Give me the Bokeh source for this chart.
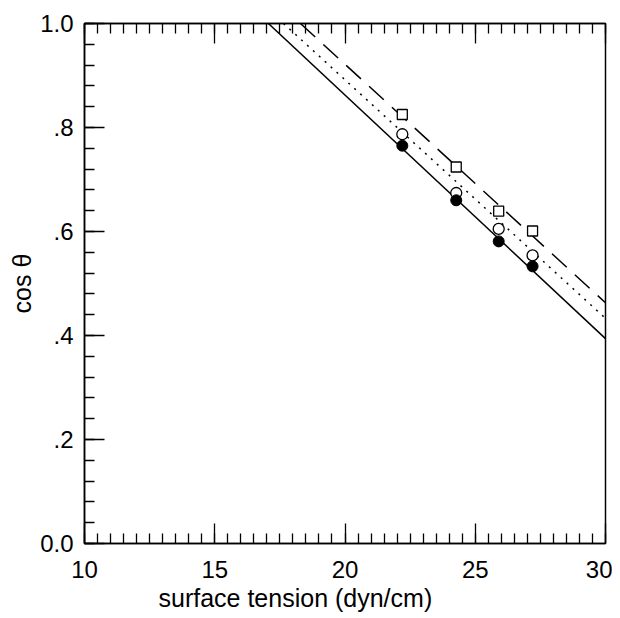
import numpy as np
from bokeh.plotting import figure
from bokeh.models import (LinearAxis, SingleIntervalTicker, FixedTicker, Range1d, Title)
from bokeh.embed import file_html
from bokeh.resources import INLINE

# ---- data ----
x_pts = [22.2, 24.27, 25.9, 27.2]
filled_circle_y = [0.765, 0.660, 0.581, 0.533]
open_circle_y = [0.787, 0.674, 0.605, 0.554]
open_square_y = [0.825, 0.724, 0.639, 0.601]

solid_x = [17.06, 30.0]
solid_y = [1.0, 0.394]
dotted_x = [17.64, 30.0]
dotted_y = [1.0, 0.433]
dashed_x = [18.29, 30.0]
dashed_y = [1.0, 0.463]

y_ticks = [0.0, 0.2, 0.4, 0.6, 0.8, 1.0]
y_tick_labels = ["0.0", ".2", ".4", ".6", ".8", "1.0"]

x_title = "surface tension (dyn/cm)"
y_title = "cos θ"

FONT = "Liberation Sans"

p = figure(width=612, height=618, output_backend="svg", toolbar_location=None,
           x_range=Range1d(10, 30), y_range=Range1d(0, 1.0),
           x_axis_location=None, y_axis_location=None,
           min_border_left=84, min_border_right=7, min_border_top=23, min_border_bottom=75)
p.xgrid.visible = False
p.ygrid.visible = False
p.outline_line_color = "black"
p.outline_line_width = 1.5
p.background_fill_color = "white"
p.border_fill_color = "white"

x_ticker = SingleIntervalTicker(interval=5, num_minor_ticks=10)
y_ticker = FixedTicker(ticks=y_ticks, minor_ticks=list(np.round(np.arange(0, 1.0001, 0.04), 2)))

def style(ax, show_labels=True):
    ax.major_tick_in = 20
    ax.major_tick_out = 0
    ax.minor_tick_in = 10
    ax.minor_tick_out = 0
    ax.axis_line_color = "black"
    ax.axis_line_width = 1.5
    ax.major_tick_line_color = "black"
    ax.major_tick_line_width = 1.3
    ax.minor_tick_line_color = "black"
    ax.minor_tick_line_width = 1.3
    ax.major_label_text_font = FONT
    if show_labels:
        ax.major_label_text_font_size = "24px"
        ax.major_label_text_color = "black"
    else:
        ax.major_label_text_font_size = "1px"
        ax.major_label_text_color = None

xb = LinearAxis(ticker=x_ticker)
style(xb)
xb.major_label_standoff = 17
p.add_layout(xb, "below")

xt = LinearAxis(ticker=x_ticker)
style(xt, show_labels=False)
xt.major_label_standoff = 0
p.add_layout(xt, "above")

yl = LinearAxis(ticker=y_ticker)
style(yl)
yl.major_label_standoff = 11
yl.major_label_overrides = {t: s for t, s in zip(y_ticks, y_tick_labels)}
p.add_layout(yl, "left")

# fitted lines
p.line(solid_x, solid_y, line_color="black", line_width=1.5)
p.line(dotted_x, dotted_y, line_color="black", line_width=1.5, line_dash="2 6")
p.line(dashed_x, dashed_y, line_color="black", line_width=1.5, line_dash="20 11")

# points
p.scatter(x_pts, open_square_y, marker="square", size=10, fill_color="white",
          line_color="black", line_width=1.3)
p.scatter(x_pts, open_circle_y, marker="circle", size=11, fill_color="white",
          line_color="black", line_width=1.3)
p.scatter(x_pts, filled_circle_y, marker="circle", size=11, fill_color="black",
          line_color="black", line_width=1.0)

# axis titles (as titles so they are placed in the border, not clipped)
p.add_layout(Title(text=x_title, align="left", offset=74, standoff=3,
                   text_font=FONT, text_font_size="25px", text_font_style="normal",
                   text_color="black"), "below")
p.add_layout(Title(text=y_title, align="center", offset=-20, standoff=4,
                   text_font=FONT, text_font_size="25px", text_font_style="normal",
                   text_color="black"), "left")

open("out.html", "w").write(file_html(p, INLINE))
